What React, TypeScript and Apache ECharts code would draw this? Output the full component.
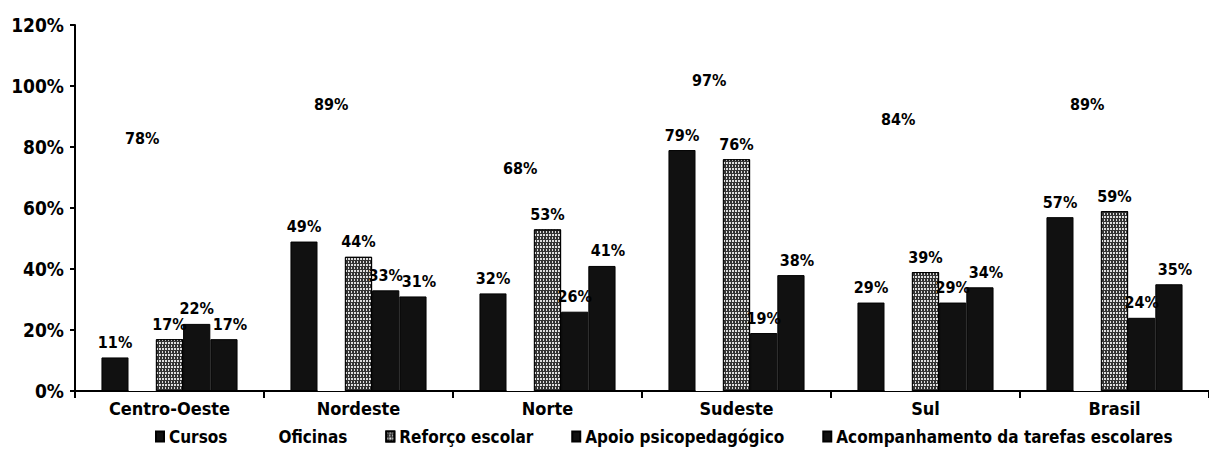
import React, { useEffect, useRef } from "react";
import * as echarts from "echarts";

const categories = ["Centro-Oeste", "Nordeste", "Norte", "Sudeste", "Sul", "Brasil"];
const cursos = [11, 49, 32, 79, 29, 57];
const oficinas = [78, 89, 68, 97, 84, 89];
const reforco = [17, 44, 53, 76, 39, 59];
const apoio = [22, 33, 26, 19, 29, 24];
const acompanhamento = [17, 31, 41, 38, 34, 35];
const seriesNames = [
  "Cursos",
  "Oficinas",
  "Reforço escolar",
  "Apoio psicopedagógico",
  "Acompanhamento da tarefas escolares",
];
const yTicks = { min: 0, max: 120, interval: 20 };

const FONT = "'Liberation Sans Narrow', 'DejaVu Sans Condensed', 'DejaVu Sans', sans-serif";

export default function App() {
  const ref = useRef<HTMLDivElement>(null);
  useEffect(() => {
    document.body.style.margin = "0";
    const chart = echarts.init(ref.current!, null, { renderer: "svg" });
    const baseLabel = {
      show: true,
      position: "top" as const,
      distance: 7,
      formatter: "{c}%",
      color: "#000",
      fontFamily: FONT,
      fontWeight: "bold" as const,
      fontSize: 16,
    };
    const dark = { color: "#111", borderColor: "#000", borderWidth: 1 };
    const mk = (name: string, data: number[], itemStyle: any, dx = 0) => ({
      name,
      type: "bar" as const,
      data,
      barGap: "0%",
      barCategoryGap: "28%",
      itemStyle,
      label: { ...baseLabel, offset: [dx, 0] },
    });
    chart.setOption({
      animation: false,
      backgroundColor: "#fff",
      grid: { left: 75, right: 0, top: 25, bottom: 67 },
      legend: {
        bottom: 8,
        left: 150,
        icon: "rect",
        itemWidth: 8,
        itemHeight: 10,
        itemGap: 38,
        textStyle: { fontFamily: FONT, fontWeight: "bold", fontSize: 17, color: "#000" },
        data: seriesNames,
      },
      xAxis: {
        type: "category",
        data: categories,
        axisLine: { lineStyle: { color: "#000", width: 2 } },
        axisTick: { show: true, length: 7, lineStyle: { color: "#000", width: 2 } },
        axisLabel: { fontFamily: FONT, fontWeight: "bold", fontSize: 18, color: "#000", margin: 8 },
      },
      yAxis: {
        type: "value",
        min: yTicks.min,
        max: yTicks.max,
        interval: yTicks.interval,
        axisLine: { show: true, lineStyle: { color: "#000", width: 2 } },
        axisTick: { show: true, length: 5, lineStyle: { color: "#000", width: 2 } },
        splitLine: { show: false },
        axisLabel: {
          formatter: "{value}%",
          fontFamily: FONT,
          fontWeight: "bold",
          fontSize: 19,
          color: "#000",
          margin: 11,
        },
      },
      series: [
        mk(seriesNames[0], cursos, dark),
        mk(seriesNames[1], oficinas, { color: "#fff" }),
        mk(seriesNames[2], reforco, {
          color: "#333",
          borderColor: "#000",
          borderWidth: 1,
          decal: {
            symbol: "rect",
            color: "#ddd",
            symbolSize: 1,
            dashArrayX: [[1, 2], [2, 1]],
            dashArrayY: [2, 1],
            rotation: 0,
          },
        }),
        mk(seriesNames[3], apoio, dark),
        mk(seriesNames[4], acompanhamento, dark, 6),
      ],
    });
    return () => chart.dispose();
  }, []);
  return <div ref={ref} style={{ width: 1209, height: 458 }} />;
}
